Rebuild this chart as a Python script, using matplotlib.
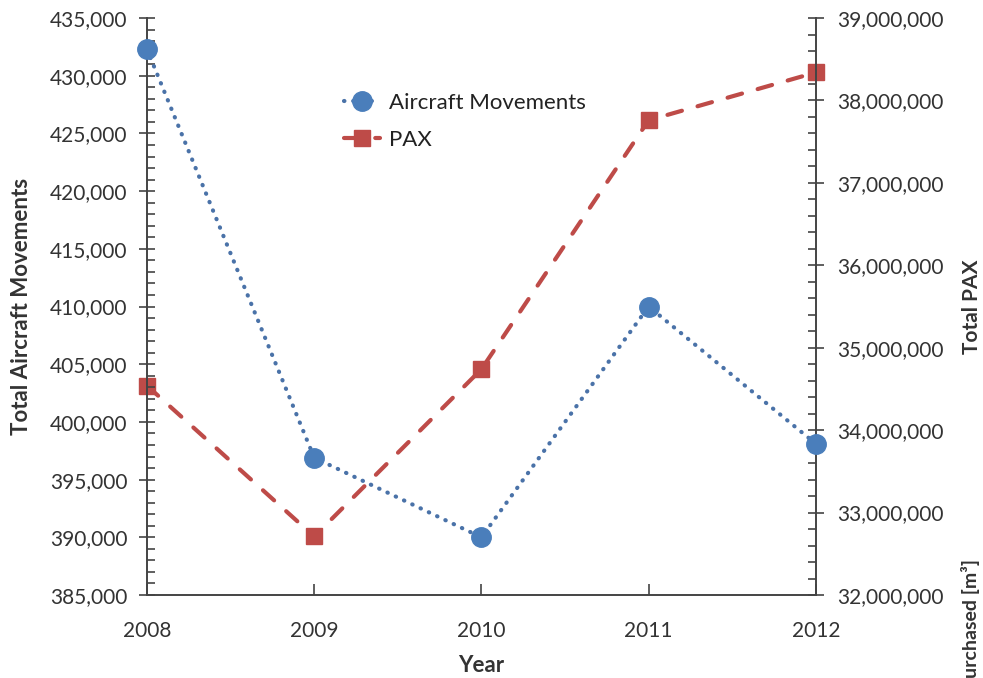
import matplotlib
matplotlib.use('Agg')
import matplotlib.pyplot as plt
from matplotlib.ticker import FuncFormatter, MultipleLocator

plt.rcParams['font.family'] = ['Lato', 'DejaVu Sans']

# yearly traffic figures
years = [2008, 2009, 2010, 2011, 2012]
aircraft_movements = [432300, 396900, 390000, 410000, 398100]
pax = [34540000, 32710000, 34740000, 37760000, 38340000]

blue = '#4a7ebb'
red = '#be4b48'
comma = FuncFormatter(lambda v, p: f'{v:,.0f}')

fig = plt.figure(figsize=(9.83, 6.78), dpi=100)
ax = fig.add_axes([0.1495, 0.1224, 0.6805, 0.851])
ax2 = ax.twinx()

l1, = ax.plot(years, aircraft_movements, color='#4a72a8', lw=3, linestyle=(0, (0.1, 2.1)),
              dash_capstyle='round', marker='o', markersize=14, markerfacecolor=blue,
              markeredgecolor=blue, label='Aircraft Movements', zorder=3, clip_on=False)
l2, = ax2.plot(years, pax, color=red, lw=3, linestyle=(0, (3.6, 3.9)),
               dash_capstyle='round', marker='s', markersize=12, label='PAX', clip_on=False)

ax.set_xlim(2008, 2012)
ax.set_ylim(385000, 435000)
ax2.set_ylim(32000000, 39000000)
ax.set_xticks(years)
ax.yaxis.set_major_locator(MultipleLocator(5000))
ax.yaxis.set_minor_locator(MultipleLocator(1000))
ax2.yaxis.set_major_locator(MultipleLocator(1000000))
ax2.yaxis.set_minor_locator(MultipleLocator(200000))
ax.yaxis.set_major_formatter(comma)
ax2.yaxis.set_major_formatter(comma)

for a in (ax, ax2):
    a.spines['top'].set_visible(False)
    for s in a.spines.values():
        s.set_linewidth(1.2)
        s.set_color('#444444')
ax.tick_params(axis='y', which='major', direction='inout', length=12, width=1.2,
               labelsize=15, colors='#444444', labelcolor='#333333', pad=8)
ax.tick_params(axis='y', which='minor', direction='in', length=6, width=1.2, colors='#444444')
ax2.tick_params(axis='y', which='major', direction='inout', length=12, width=1.2,
                labelsize=15, colors='#444444', labelcolor='#333333', pad=9)
ax2.tick_params(axis='y', which='minor', direction='in', length=6, width=1.2, colors='#444444')
ax.tick_params(axis='x', direction='in', length=8, width=1.2, labelsize=15,
               colors='#444444', labelcolor='#333333', pad=19)

ax.set_xlabel('Year', fontsize=16, fontweight='bold', color='#333333')
ax.set_ylabel('Total Aircraft Movements', fontsize=16, fontweight='bold', color='#333333')
ax2.set_ylabel('Total PAX', fontsize=15, fontweight='bold', color='#333333')
ax.xaxis.set_label_coords(0.5, -0.104)
ax.yaxis.set_label_coords(-0.172, 0.5)
ax2.yaxis.set_label_coords(1.219, 0.5)

ax.set_zorder(ax2.get_zorder() + 1)
ax.patch.set_visible(False)

leg = ax.legend(handles=[l1, l2], loc='upper left', bbox_to_anchor=(0.265, 0.905),
                frameon=False, fontsize=16, handlelength=1.6, labelspacing=0.75,
                handletextpad=0.4)
for t in leg.get_texts():
    t.set_color('#222222')

# label of a neighbouring panel, running off the bottom edge
fig.text(0.987, 0.0, 'urchased [m³]', rotation=90, ha='center', va='bottom',
         fontsize=14, fontweight='bold', color='#333333')

fig.savefig('out.png', dpi=100)
